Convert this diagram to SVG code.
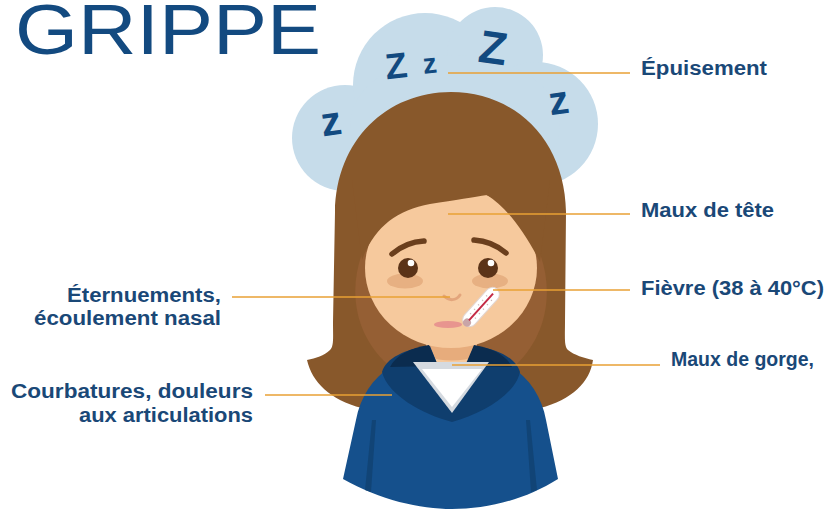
<svg xmlns="http://www.w3.org/2000/svg" width="835" height="510" viewBox="0 0 835 510">
  <style>
    .title { font-family: "Liberation Sans", Arial, sans-serif; font-size: 71px; fill: #134a80; }
    .lbl { font-family: "Liberation Sans", Arial, sans-serif; font-size: 20px; font-weight: bold; fill: #1a4877; }
    .zz { font-family: "Liberation Sans", Arial, sans-serif; font-weight: bold; fill: #124a80; }
    .cloud { fill: #c6dcea; }
    .hair { fill: #88582b; }
    .strand { fill: #955f34; }
    .skin { fill: #f6c99d; }
    .fold { fill: #114476; }
    .conn { stroke: #e8a035; stroke-width: 1.6; fill: none; }
  </style>

  <rect width="835" height="510" fill="#ffffff"/>

  <!-- heading -->
  <text class="title" x="15" y="53.5" textLength="306" lengthAdjust="spacingAndGlyphs">GRIPPE</text>

  <!-- sleep cloud -->
  <g id="cloud">
    <circle class="cloud" cx="345" cy="138" r="53"/>
    <circle class="cloud" cx="425" cy="85" r="72"/>
    <circle class="cloud" cx="495" cy="55" r="48"/>
    <ellipse class="cloud" cx="536" cy="124" rx="62" ry="62"/>
    <ellipse class="cloud" cx="455" cy="125" rx="105" ry="70"/>
    <text class="zz" font-size="41" x="321" y="135" transform="rotate(-8 332 124)">z</text>
    <text class="zz" font-size="36" x="385" y="78" transform="rotate(-6 397 65)">Z</text>
    <text class="zz" font-size="28" x="423" y="73" transform="rotate(-6 430 65)">z</text>
    <text class="zz" font-size="46" x="479" y="64" transform="rotate(8 495 48)">Z</text>
    <text class="zz" font-size="40" x="549" y="114" transform="rotate(-8 559 104)">z</text>
  </g>

  <!-- sick girl -->
  <g id="girl">
    <!-- back hair -->
    <path class="hair" d="M451 92 C387 92 336 140 335 212 L333 322 C333 338 334 346 330 350 C324 356 316 358 307 360 C312 382 330 400 362 408 L540 408 C572 400 590 382 593 360 C584 358 574 355 568 350 C564 346 565 338 565 322 L566 212 C565 140 515 92 451 92 Z"/>
    <!-- lighter front strands beside the face -->
    <path class="strand" d="M369 238 C344 285 354 338 392 368 L430 368 L430 300 Z"/>
    <path class="strand" d="M533 238 C558 285 548 338 512 368 L474 368 L474 300 Z"/>
    <!-- neck -->
    <rect class="skin" x="426" y="320" width="51" height="60"/>
    <path fill="#e7ac7c" d="M426 330 L477 330 L477 356 C462 362 442 362 426 356 Z"/>
    <!-- face -->
    <ellipse class="skin" cx="451" cy="268" rx="86" ry="80"/>
    <!-- bangs -->
    <path class="hair" d="M362 260 C374 228 396 210 430 204 C456 200 474 197 487 195 C505 206 524 230 540 262 L550 180 L352 180 Z"/>
    <!-- eye bags -->
    <ellipse cx="405" cy="281" rx="18" ry="7.5" fill="#e7b082"/>
    <ellipse cx="490" cy="281" rx="18" ry="7.5" fill="#e7b082"/>
    <!-- eyebrows -->
    <path d="M392 254 Q406 242 424 241" stroke="#6b3f1d" stroke-width="5.5" stroke-linecap="round" fill="none"/>
    <path d="M474 240 Q492 241 506 253" stroke="#6b3f1d" stroke-width="5.5" stroke-linecap="round" fill="none"/>
    <!-- eyes -->
    <circle cx="408" cy="268" r="10" fill="#5b3318"/>
    <circle cx="411" cy="263" r="3.3" fill="#ffffff"/>
    <circle cx="488" cy="268" r="10" fill="#5b3318"/>
    <circle cx="491" cy="263" r="3.3" fill="#ffffff"/>
    <!-- nose -->
    <path d="M444 296 C449 301 456 301 460 295" stroke="#e3a57c" stroke-width="3" stroke-linecap="round" fill="none"/>
    <!-- mouth -->
    <ellipse cx="448" cy="324.5" rx="14" ry="3.6" fill="#e8958f"/>
    <!-- thermometer -->
    <g transform="translate(481 307) rotate(-48)">
      <rect x="-24" y="-7" width="48" height="14" rx="7" fill="#ffffff" stroke="#e2d6d2" stroke-width="1"/>
      <circle cx="-21" cy="0" r="4" fill="#c9a5a8"/>
      <line x1="-18" y1="0" x2="18" y2="0" stroke="#c42a45" stroke-width="2"/>
      <g stroke="#c9b3b3" stroke-width="1">
        <line x1="-12" y1="-4" x2="-12" y2="-2.5"/><line x1="-6" y1="-4" x2="-6" y2="-2.5"/>
        <line x1="0" y1="-4" x2="0" y2="-2.5"/><line x1="6" y1="-4" x2="6" y2="-2.5"/>
        <line x1="12" y1="-4" x2="12" y2="-2.5"/>
        <line x1="-12" y1="2.5" x2="-12" y2="4"/><line x1="-6" y1="2.5" x2="-6" y2="4"/>
        <line x1="0" y1="2.5" x2="0" y2="4"/><line x1="6" y1="2.5" x2="6" y2="4"/>
        <line x1="12" y1="2.5" x2="12" y2="4"/>
      </g>
    </g>
    <!-- hoodie -->
    <path fill="#15508c" d="M392 366 C372 378 360 398 356 420 L343 479 C380 500 420 509 452 509 C486 509 525 500 558 479 L546 420 C542 398 530 378 510 366 Z"/>
    <path class="fold" d="M372 420 L376 420 L371 492 L365 490 Z"/>
    <path class="fold" d="M526 420 L530 420 L537 490 L531 492 Z"/>
    <path fill="#0f3e6e" d="M382 372 C386 358 405 349 430 346 L452 400 L474 346 C498 349 516 358 520 372 C515 395 482 414 452 422 C422 414 388 395 382 372 Z"/>
    <path fill="#0b2c4f" d="M390 367 C396 355 410 348 429 345 L438 366 Z"/>
    <path fill="#0b2c4f" d="M512 367 C506 355 492 348 474 345 L465 366 Z"/>
    <path fill="#d5dae0" d="M413 362 L489 362 L452 413 Z"/>
    <path fill="#ffffff" d="M422 369 L482 369 L452 407 Z"/>
  </g>

  <!-- leader lines -->
  <g id="connectors">
    <line class="conn" x1="448" y1="73" x2="630" y2="73"/>
    <line class="conn" x1="448" y1="214" x2="630" y2="214"/>
    <line class="conn" x1="493" y1="290" x2="630" y2="290"/>
    <line class="conn" x1="452" y1="365" x2="660" y2="365"/>
    <line class="conn" x1="232" y1="297" x2="450" y2="297"/>
    <line class="conn" x1="265" y1="395" x2="392" y2="395"/>
  </g>

  <!-- symptom labels -->
  <g id="label-epuisement">
    <text class="lbl" x="641" y="75" textLength="126" lengthAdjust="spacingAndGlyphs">Épuisement</text>
  </g>
  <g id="label-maux-tete">
    <text class="lbl" x="641" y="217" textLength="133" lengthAdjust="spacingAndGlyphs">Maux de tête</text>
  </g>
  <g id="label-fievre">
    <text class="lbl" x="641" y="295" textLength="183" lengthAdjust="spacingAndGlyphs">Fièvre (38 à 40°C)</text>
  </g>
  <g id="label-gorge">
    <text class="lbl" x="671" y="366" textLength="143" lengthAdjust="spacingAndGlyphs">Maux de gorge,</text>
  </g>
  <g id="label-nez">
    <text class="lbl" x="221" y="302" text-anchor="end" textLength="154" lengthAdjust="spacingAndGlyphs">Éternuements,</text>
    <text class="lbl" x="221" y="325" text-anchor="end" textLength="187" lengthAdjust="spacingAndGlyphs">écoulement nasal</text>
  </g>
  <g id="label-courbatures">
    <text class="lbl" x="253" y="398" text-anchor="end" textLength="242" lengthAdjust="spacingAndGlyphs">Courbatures, douleurs</text>
    <text class="lbl" x="253" y="422" text-anchor="end" textLength="174" lengthAdjust="spacingAndGlyphs">aux articulations</text>
  </g>
</svg>
